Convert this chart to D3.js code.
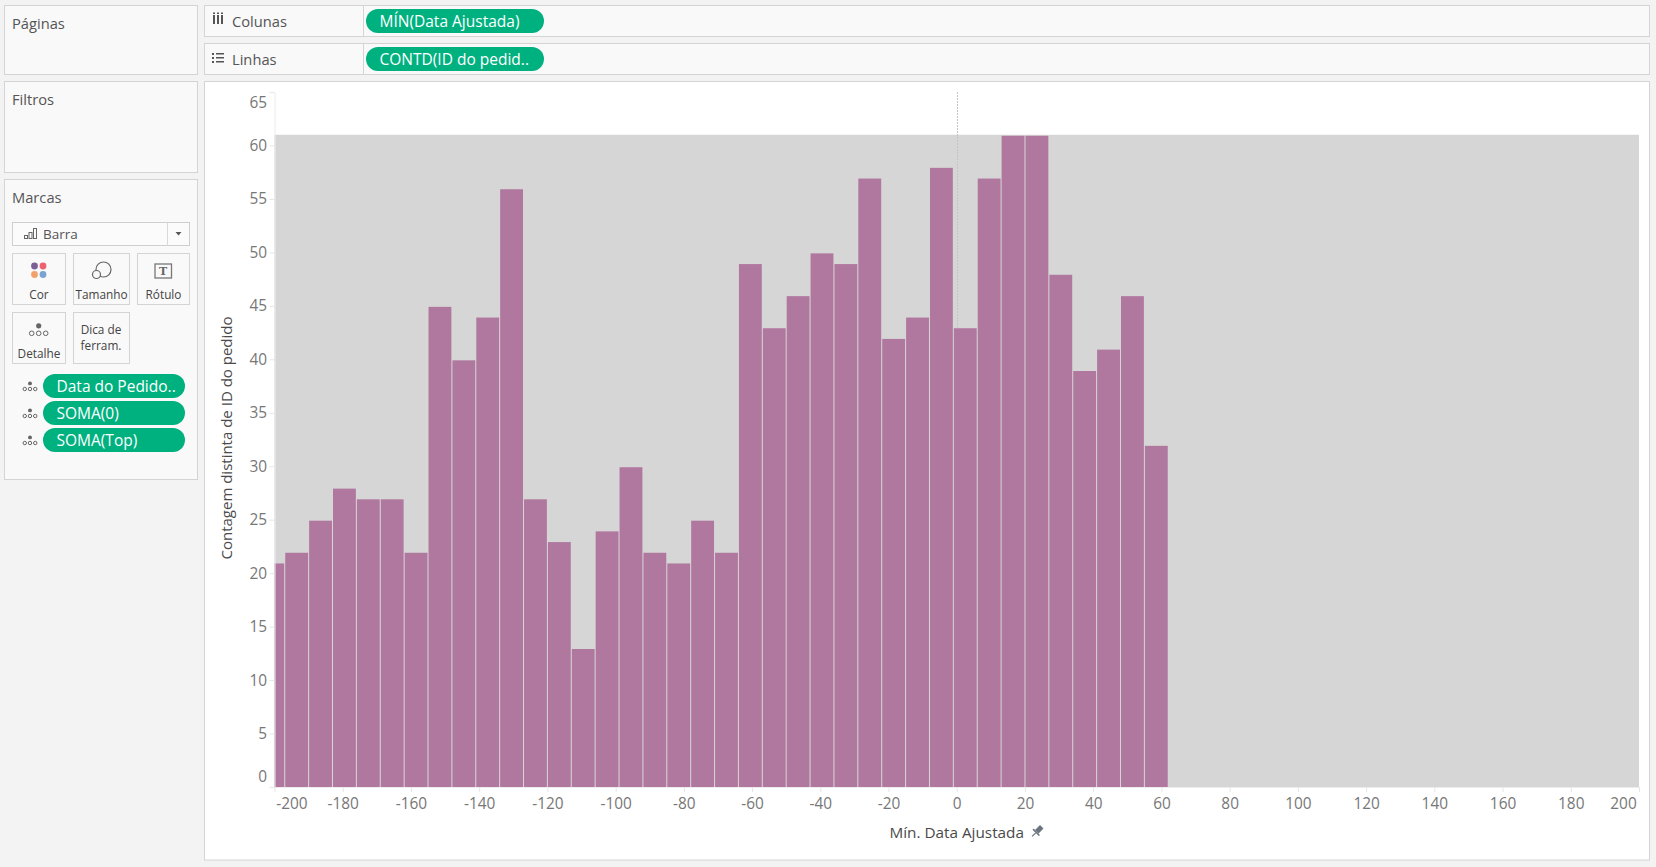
<!DOCTYPE html>
<html>
<head>
<meta charset="utf-8">
<script src="https://d3js.org/d3.v7.min.js"></script>
<style>
  html, body { margin: 0; padding: 0; background: #f3f3f3; }
  svg { display: block; }
  text { font-family: "Open Sans", Lato, sans-serif; }
</style>
</head>
<body>
<svg id="chart" width="1656" height="867"></svg>
<script>
// Data
const binDays = [-200.5, -193.5, -186.5, -179.5, -172.5, -165.5, -158.5, -151.5, -144.5, -137.5,
  -130.5, -123.5, -116.5, -109.5, -102.5, -95.5, -88.5, -81.5, -74.5, -67.5,
  -60.5, -53.5, -46.5, -39.5, -32.5, -25.5, -18.5, -11.5, -4.5, 2.5,
  9.5, 16.5, 23.5, 30.5, 37.5, 44.5, 51.5, 58.5];
const orderCounts = [21, 22, 25, 28, 27, 27, 22, 45, 40, 44,
  56, 27, 23, 13, 24, 30, 22, 21, 25, 22,
  49, 43, 46, 50, 49, 57, 42, 44, 58, 43,
  57, 61, 61, 48, 39, 41, 46, 32];
const xTicks = d3.range(-200, 201, 20);
const yTicks = d3.range(0, 66, 5);
const bandTop = 61;

const svg = d3.select('#chart');

// Panels around the view
const panels = [
  [4.5, 5.5, 193, 69], [4.5, 81.5, 193, 91], [4.5, 179.5, 193, 300],
  [204.5, 5.5, 1445, 31], [204.5, 43.5, 1445, 31]
];
svg.selectAll('rect.panel').data(panels).join('rect')
  .attr('class', 'panel')
  .attr('x', d => d[0]).attr('y', d => d[1])
  .attr('width', d => d[2]).attr('height', d => d[3])
  .attr('fill', '#f9f9f9').attr('stroke', '#d4d4d4');
svg.append('rect').attr('x', 204.5).attr('y', 81.5).attr('width', 1445).attr('height', 778.5)
  .attr('fill', '#fff').attr('stroke', '#d4d4d4');
svg.selectAll('line.shelfdiv').data([[5.5, 36.5], [43.5, 74.5]]).join('line')
  .attr('class', 'shelfdiv')
  .attr('x1', 363.5).attr('x2', 363.5).attr('y1', d => d[0]).attr('y2', d => d[1])
  .attr('stroke', '#d4d4d4');

function label(txt, x, y, size, fill, anchor) {
  return svg.append('text').attr('x', x).attr('y', y).text(txt)
    .attr('font-size', size).attr('fill', fill).attr('text-anchor', anchor || 'start');
}
label('Páginas', 12, 28.5, 14.7, '#555');
label('Filtros', 12, 105, 14.7, '#555');
label('Marcas', 12, 203, 14.7, '#555');
label('Colunas', 232, 27, 14.7, '#555');
label('Linhas', 232, 65, 14.7, '#555');

// Green field pills
function pill(txt, x, y, w) {
  svg.append('rect').attr('x', x).attr('y', y).attr('width', w).attr('height', 24)
    .attr('rx', 12).attr('fill', '#00b180');
  label(txt, x + 13.5, y + 17.5, 15.5, '#fff');
}
pill('MÍN(Data Ajustada)', 366, 9, 178);
pill('CONTD(ID do pedid..', 366, 47, 178);
pill('Data do Pedido..', 43, 374, 142);
pill('SOMA(0)', 43, 401, 142);
pill('SOMA(Top)', 43, 428, 142);

// Shelf icons
[0, 4, 8].forEach(d => {
  svg.append('rect').attr('x', 213 + d).attr('y', 15).attr('width', 2).attr('height', 9).attr('fill', '#555');
  svg.append('rect').attr('x', 213 + d).attr('y', 12.5).attr('width', 2).attr('height', 1.5).attr('fill', '#555');
  svg.append('rect').attr('x', 212).attr('y', 53 + d).attr('width', 2).attr('height', 2).attr('fill', '#555');
  svg.append('rect').attr('x', 216).attr('y', 53 + d).attr('width', 8).attr('height', 1.5).attr('fill', '#555');
});

// Marks card
svg.append('rect').attr('x', 12.5).attr('y', 222.5).attr('width', 177).attr('height', 23)
  .attr('fill', '#fbfbfb').attr('stroke', '#cfcfcf');
svg.append('line').attr('x1', 167.5).attr('x2', 167.5).attr('y1', 222.5).attr('y2', 245.5).attr('stroke', '#d8d8d8');
svg.append('path').attr('d', 'M175.5 232h6l-3 3.5z').attr('fill', '#555');
[[24, 236, 3], [28.5, 233, 6], [33, 229, 10]].forEach(d => {
  svg.append('rect').attr('x', d[0] + 0.5).attr('y', d[1] - 0.5).attr('width', 3).attr('height', d[2])
    .attr('fill', 'none').attr('stroke', '#666');
});
label('Barra', 43, 239, 13.5, '#555');

const buttons = [
  [12.5, 253.5, 53, 51, 'Cor'], [73.5, 253.5, 56, 51, 'Tamanho'], [137.5, 253.5, 52, 51, 'Rótulo'],
  [12.5, 312.5, 53, 51, 'Detalhe'], [73.5, 312.5, 56, 51, '']
];
svg.selectAll('rect.btn').data(buttons).join('rect')
  .attr('class', 'btn')
  .attr('x', d => d[0]).attr('y', d => d[1]).attr('width', d => d[2]).attr('height', d => d[3])
  .attr('fill', '#f9f9f9').attr('stroke', '#d4d4d4');
buttons.filter(d => d[4]).forEach(d => {
  label(d[4], d[0] + d[2] / 2, d[1] + d[3] - 6, 11.8, '#444', 'middle');
});
label('Dica de', 101, 334, 11.8, '#444', 'middle');
label('ferram.', 101, 350, 11.8, '#444', 'middle');

// Cor icon
[[34.5, 266, '#7b5f95'], [43, 266, '#f0616f'], [34.5, 274.5, '#f2a16c'], [43, 274.5, '#7aa4d0']].forEach(d => {
  svg.append('circle').attr('cx', d[0]).attr('cy', d[1]).attr('r', 3.4).attr('fill', d[2]);
});
// Tamanho icon
svg.append('circle').attr('cx', 103.5).attr('cy', 269.5).attr('r', 7.5).attr('fill', 'none').attr('stroke', '#666').attr('stroke-width', 1.2);
svg.append('circle').attr('cx', 96.5).attr('cy', 274.5).attr('r', 4).attr('fill', '#f9f9f9').attr('stroke', '#666').attr('stroke-width', 1.2);
// Rotulo icon
svg.append('rect').attr('x', 155).attr('y', 264).attr('width', 16.5).attr('height', 14)
  .attr('fill', 'none').attr('stroke', '#777').attr('stroke-width', 1.3);
svg.append('text').attr('x', 163.2).attr('y', 275).attr('text-anchor', 'middle').attr('font-size', 11)
  .attr('font-weight', 'bold').attr('fill', '#666').style('font-family', '"DejaVu Serif"').text('T');

// Detail icons
function detailIcon(cx, cy, k, fill) {
  svg.append('circle').attr('cx', cx).attr('cy', cy - 7.5 * k).attr('r', 2.6 * k).attr('fill', fill);
  [-7, 0, 7].forEach(dx => {
    svg.append('circle').attr('cx', cx + dx * k).attr('cy', cy).attr('r', 2.3 * k)
      .attr('fill', 'none').attr('stroke', fill).attr('stroke-width', 1);
  });
}
detailIcon(38.7, 333.3, 1, '#666');
[389, 416, 443].forEach(y => detailIcon(30, y, 0.75, '#666'));

// Scales
const x = d3.scaleLinear().domain([-200, 200]).range([274.5, 1639]);
const y = d3.scaleLinear().domain([0, 65]).range([787, 92]);

// Grey reference band
svg.append('rect')
  .attr('x', x(-200)).attr('y', y(bandTop))
  .attr('width', x(200) - x(-200)).attr('height', y(0) - y(bandTop))
  .attr('fill', '#d6d6d6');

// Dashed line at zero
svg.append('line')
  .attr('x1', Math.round(x(0)) + 0.5).attr('x2', Math.round(x(0)) + 0.5)
  .attr('y1', y(65)).attr('y2', y(0))
  .attr('stroke', '#c4c4c4').attr('stroke-dasharray', '2,1');

// Bars, the first one is cut by the axis
svg.append('clipPath').attr('id', 'plot').append('rect')
  .attr('x', x(-200)).attr('y', y(65))
  .attr('width', x(200) - x(-200)).attr('height', y(0) - y(65));

svg.append('g').attr('clip-path', 'url(#plot)')
  .selectAll('rect').data(binDays).join('rect')
  .attr('x', d => x(d - 3.35))
  .attr('width', d => x(d + 3.35) - x(d - 3.35))
  .attr('y', (d, i) => y(orderCounts[i]) + 1)
  .attr('height', (d, i) => y(0) - y(orderCounts[i]) - 1)
  .attr('fill', '#b0789f');

// Axes
const xAxis = svg.append('g').attr('transform', 'translate(0,787)')
  .call(d3.axisBottom(x).tickValues(xTicks).tickFormat(d => String(d)).tickSize(5).tickSizeOuter(0));
const yAxis = svg.append('g').attr('transform', 'translate(274.5,0)')
  .call(d3.axisLeft(y).tickValues(yTicks).tickFormat(d => String(d)).tickSize(5).tickSizeOuter(0));
[xAxis, yAxis].forEach(a => {
  a.selectAll('.domain').attr('stroke', '#ececec');
  a.selectAll('.tick line').attr('stroke', '#e6e6e6');
  a.selectAll('.tick text').attr('fill', '#777').attr('font-size', 15.4)
    .style('font-family', '"Open Sans", Lato, sans-serif');
});
// Edge labels are pushed inward like in the reference
xAxis.selectAll('.tick text').attr('y', 11.5)
  .attr('x', d => d === -200 ? 17 : (d === 200 ? -16 : 0));
yAxis.selectAll('.tick text').attr('x', -7.5)
  .attr('y', d => d === 65 ? 11 : (d === 0 ? -10 : 0));

// Axis titles
label('Mín. Data Ajustada', 956.7, 838, 15.3, '#4a4a4a', 'middle');
const pin = svg.append('g').attr('transform', 'translate(1037.5,831) rotate(45)').attr('fill', '#6a7580');
pin.append('rect').attr('x', -2.5).attr('y', -6).attr('width', 5).attr('height', 7);
pin.append('rect').attr('x', -4.5).attr('y', 1).attr('width', 9).attr('height', 1.6);
pin.append('rect').attr('x', -0.6).attr('y', 2.6).attr('width', 1.2).attr('height', 5);
svg.append('text').attr('transform', 'translate(231.5,438) rotate(-90)')
  .attr('text-anchor', 'middle').attr('font-size', 15).attr('fill', '#4a4a4a')
  .text('Contagem distinta de ID do pedido');
</script>
</body>
</html>
